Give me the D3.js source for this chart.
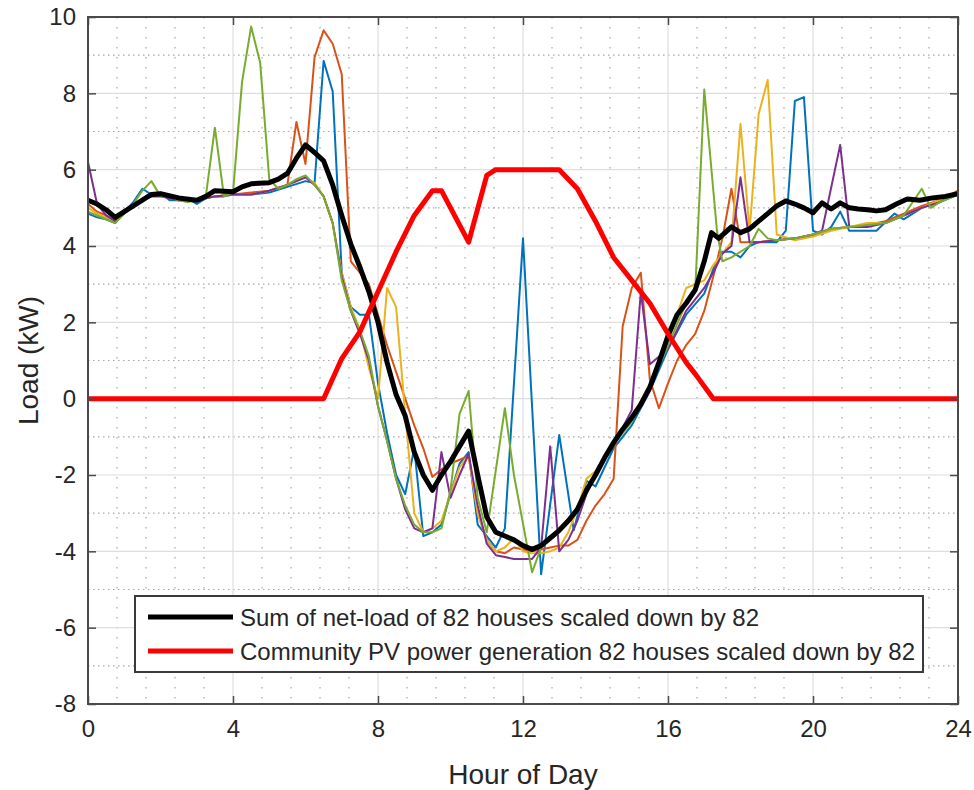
<!DOCTYPE html>
<html>
<head>
<meta charset="utf-8">
<script src="https://cdn.jsdelivr.net/npm/d3@7"></script>
<style>
  body { margin: 0; background: #fff; }
  text { font-family: "Liberation Sans", Arial, Helvetica, sans-serif; fill: #262626; }
</style>
</head>
<body>
<div id="chart"></div>
<script>
let width = 974, height = 790;
const margin = { left: 88, right: 16, top: 17, bottom: 86 };

// axis ticks
const xTicks = [0, 4, 8, 12, 16, 20, 24];
const yTicks = [-8, -6, -4, -2, 0, 2, 4, 6, 8, 10];

// [hour, kW] vertices
const blue = [[0,4.85],[0.25,4.75],[0.5,4.7],[0.75,4.6],[1,4.9],[1.25,5.15],[1.5,5.5],[1.75,5.35],[2,5.4],[2.25,5.2],[2.5,5.2],[2.75,5.25],[3,5.1],[3.25,5.25],[3.5,5.3],[3.75,5.3],[4,5.35],[4.5,5.35],[5,5.4],[5.5,5.55],[6,5.7],[6.25,5.65],[6.5,8.85],[6.75,8.05],[7,3.3],[7.25,2.4],[7.5,2.2],[7.75,2.2],[8,0.4],[8.25,-0.9],[8.5,-2.0],[8.75,-2.5],[9,-1.3],[9.25,-3.6],[9.5,-3.5],[9.75,-3.3],[10,-2.5],[10.25,-1.7],[10.5,-1.4],[10.75,-3.3],[11,-3.6],[11.25,-3.9],[11.5,-3.4],[12,4.2],[12.5,-4.6],[13,-0.95],[13.4,-3.45],[13.75,-2.15],[14,-2.3],[14.5,-1.3],[15,-0.7],[15.5,0.2],[16,1.3],[16.5,2.2],[17,2.75],[17.25,3.4],[17.5,3.85],[17.75,3.85],[18,3.7],[18.25,4.0],[18.5,4.1],[19,4.1],[19.25,4.4],[19.5,7.8],[19.75,7.9],[20,4.4],[20.25,4.3],[20.5,4.5],[20.75,4.9],[21,4.4],[21.5,4.4],[21.75,4.4],[22.25,4.85],[22.5,4.7],[23,5.0],[23.5,5.15],[24,5.35]];

const orange = [[0,5.1],[0.25,4.9],[0.5,4.8],[0.75,4.65],[1,4.85],[1.25,5.05],[1.5,5.2],[1.75,5.3],[2,5.35],[2.5,5.2],[3,5.2],[3.5,5.3],[4,5.35],[4.5,5.4],[5,5.45],[5.5,5.6],[5.75,7.25],[6,6.15],[6.25,8.95],[6.5,9.65],[6.75,9.3],[7,8.5],[7.25,3.6],[7.5,3.3],[7.75,3.0],[8,2.2],[8.25,1.4],[8.5,0.7],[8.75,0.0],[9,-0.7],[9.25,-1.3],[9.5,-2.05],[9.75,-1.85],[10,-1.7],[10.25,-1.6],[10.5,-1.5],[10.75,-3.0],[11,-3.7],[11.25,-4.0],[11.5,-4.05],[11.75,-3.9],[12,-3.95],[12.25,-4.0],[12.5,-3.95],[12.75,-3.9],[13,-3.85],[13.25,-3.85],[13.5,-3.7],[13.75,-3.2],[14,-2.8],[14.25,-2.5],[14.5,-2.1],[14.75,1.9],[15,2.9],[15.25,3.3],[15.5,0.5],[15.75,-0.25],[16,0.4],[16.25,1.0],[16.5,1.4],[16.75,1.7],[17,2.3],[17.25,3.2],[17.5,4.2],[17.75,5.5],[18,4.1],[18.5,4.1],[19,4.15],[19.5,4.2],[20,4.3],[20.5,4.45],[21,4.5],[21.5,4.55],[22,4.65],[22.5,4.85],[23,5.05],[23.5,5.2],[24,5.45]];

const yellow = [[0,5.0],[0.25,4.85],[0.5,4.75],[0.75,4.65],[1,4.85],[1.25,5.05],[1.5,5.2],[1.75,5.3],[2,5.35],[2.5,5.2],[3,5.2],[3.5,5.3],[4,5.35],[4.5,5.35],[5,5.45],[5.5,5.6],[6,5.8],[6.25,5.65],[6.5,5.3],[6.75,4.6],[7,3.3],[7.25,2.4],[7.5,1.8],[7.75,0.8],[8,0.0],[8.25,2.9],[8.5,2.4],[8.75,-0.4],[9,-3.0],[9.25,-3.5],[9.5,-3.4],[9.75,-3.2],[10,-2.5],[10.25,-1.8],[10.5,-1.5],[10.75,-3.0],[11,-3.7],[11.25,-4.0],[11.5,-3.9],[11.75,-3.65],[12,-4.0],[12.25,-4.05],[12.5,-4.05],[12.75,-4.0],[13,-3.9],[13.25,-3.5],[13.5,-2.9],[13.75,-2.1],[14,-1.9],[14.5,-1.1],[15,-0.5],[15.5,0.4],[16,1.5],[16.5,2.9],[17,3.1],[17.25,3.5],[17.5,3.8],[17.75,4.1],[18,7.2],[18.25,4.4],[18.5,7.45],[18.75,8.35],[19,4.3],[19.5,4.15],[20,4.25],[20.5,4.4],[21,4.5],[21.5,4.6],[22,4.6],[22.5,4.8],[23,5.0],[23.5,5.2],[24,5.4]];

const purple = [[0,6.2],[0.25,5.1],[0.5,4.8],[0.75,4.65],[1,4.85],[1.25,5.05],[1.5,5.2],[1.75,5.3],[2,5.3],[2.5,5.2],[3,5.2],[3.5,5.3],[4,5.35],[4.5,5.35],[5,5.45],[5.5,5.6],[6,5.8],[6.25,5.6],[6.5,5.3],[6.75,4.6],[7,3.2],[7.25,2.3],[7.5,1.7],[7.75,1.0],[8,-0.2],[8.25,-1.1],[8.5,-2.1],[8.75,-2.9],[9,-3.4],[9.25,-3.5],[9.5,-3.4],[9.75,-1.4],[10,-2.6],[10.25,-2.0],[10.5,-1.45],[10.75,-2.8],[11,-3.8],[11.25,-4.1],[11.5,-4.15],[11.75,-4.2],[12,-4.2],[12.25,-4.2],[12.5,-3.9],[12.75,-1.25],[13,-4.0],[13.25,-3.7],[13.5,-3.2],[13.75,-2.5],[14,-2.0],[14.5,-1.2],[15,-0.3],[15.25,2.8],[15.5,0.9],[16,1.3],[16.5,2.3],[17,2.9],[17.25,3.3],[17.5,3.8],[17.75,4.0],[18,5.8],[18.25,4.1],[18.5,4.1],[19,4.15],[19.5,4.2],[20,4.3],[20.25,4.4],[20.75,6.65],[21,4.5],[21.5,4.5],[22,4.6],[22.5,4.8],[23,5.0],[23.5,5.15],[24,5.4]];

const green = [[0,4.9],[0.25,4.8],[0.5,4.7],[0.75,4.6],[1,4.85],[1.25,5.1],[1.5,5.45],[1.75,5.7],[2,5.3],[2.25,5.3],[2.5,5.2],[2.75,5.15],[3,5.2],[3.25,5.3],[3.5,7.1],[3.75,5.3],[4,5.4],[4.25,8.3],[4.5,9.75],[4.75,8.8],[5,5.75],[5.25,5.5],[5.5,5.6],[5.75,5.75],[6,5.85],[6.25,5.6],[6.5,5.3],[6.75,4.6],[7,3.1],[7.25,2.3],[7.5,1.8],[7.75,1.1],[8,-0.2],[8.25,-1.1],[8.5,-2.1],[8.75,-2.8],[9,-3.3],[9.25,-3.5],[9.5,-3.5],[9.75,-3.4],[10,-2.4],[10.25,-0.4],[10.5,0.2],[10.75,-2.6],[11,-3.5],[11.5,-0.25],[11.75,-2.0],[12.25,-4.55],[12.5,-3.9],[12.75,-3.7],[13,-3.5],[13.5,-2.9],[14,-2.0],[14.5,-1.2],[15,-0.6],[15.5,0.3],[16,1.4],[16.5,2.5],[16.75,2.8],[17,8.1],[17.35,4.4],[17.5,3.6],[17.75,3.7],[18,3.85],[18.25,4.0],[18.5,4.45],[18.75,4.2],[19,4.15],[19.5,4.2],[20,4.3],[20.5,4.45],[21,4.5],[21.5,4.55],[22,4.6],[22.5,4.8],[23,5.5],[23.25,5.0],[23.5,5.15],[24,5.35]];

const netLoad = [[0,5.2],[0.25,5.1],[0.5,4.95],[0.75,4.75],[1,4.9],[1.25,5.05],[1.5,5.2],[1.75,5.35],[2,5.37],[2.5,5.26],[3,5.2],[3.25,5.3],[3.5,5.45],[4,5.42],[4.25,5.55],[4.5,5.63],[5,5.66],[5.25,5.75],[5.5,5.9],[5.75,6.3],[6,6.65],[6.25,6.45],[6.5,6.23],[6.75,5.6],[7,4.8],[7.25,4.05],[7.5,3.45],[7.75,2.8],[8,2.0],[8.25,0.95],[8.5,0.1],[8.75,-0.45],[9,-1.4],[9.25,-2.0],[9.5,-2.4],[9.75,-2.0],[10,-1.65],[10.25,-1.25],[10.5,-0.85],[10.75,-2.0],[11,-3.1],[11.25,-3.5],[11.5,-3.6],[11.75,-3.7],[12,-3.85],[12.25,-3.95],[12.5,-3.85],[12.75,-3.65],[13,-3.45],[13.25,-3.2],[13.5,-2.9],[13.75,-2.4],[14,-2.0],[14.25,-1.55],[14.5,-1.15],[14.75,-0.8],[15,-0.5],[15.25,-0.15],[15.5,0.3],[15.75,0.95],[16,1.65],[16.25,2.2],[16.5,2.5],[16.75,2.85],[17,3.6],[17.2,4.35],[17.4,4.2],[17.75,4.5],[18,4.35],[18.25,4.45],[18.5,4.65],[18.75,4.85],[19,5.05],[19.25,5.18],[19.5,5.1],[19.75,5.0],[20,4.87],[20.25,5.13],[20.5,4.97],[20.75,5.13],[21,5.0],[21.25,4.97],[21.5,4.95],[21.75,4.92],[22,4.95],[22.3,5.1],[22.6,5.23],[22.95,5.2],[23.3,5.26],[23.65,5.3],[24,5.37]];

const pvGen = [[0,0],[6.5,0],[7,1.05],[7.5,1.75],[8,2.8],[8.5,3.85],[9,4.8],[9.5,5.45],[9.75,5.45],[10.5,4.1],[11,5.85],[11.25,6],[13,6],[13.5,5.5],[14,4.65],[14.5,3.7],[15,3.1],[15.5,2.5],[16,1.7],[16.5,0.95],[16.75,0.65],[17.25,0],[24,0]];

const houseSeries = [blue, orange, yellow, purple, green];
const houseColors = ['#0072BD', '#D95319', '#EDB120', '#7E2F8E', '#77AC30'];
const legendLabels = ['Sum of net-load of 82 houses scaled down by 82',
                      'Community PV power generation 82 houses scaled down by 82'];

const svg = d3.select('#chart').append('svg')
  .attr('width', width)
  .attr('height', height);

const x = d3.scaleLinear().domain([0, 24]).range([margin.left, width - margin.right]);
const y = d3.scaleLinear().domain([-8, 10]).range([height - margin.bottom, margin.top]);

const x0 = x.range()[0], x1 = x.range()[1], y0 = y.range()[0], y1 = y.range()[1];

// minor grid (dotted)
const g = svg.append('g');
g.selectAll('.minor-x')
  .data(d3.range(0.8, 24, 0.8).filter(v => Math.abs(v / 4 - Math.round(v / 4)) > 0.01))
  .join('line')
    .attr('x1', d => x(d)).attr('x2', d => x(d))
    .attr('y1', y1).attr('y2', y0)
    .attr('stroke', '#a8a8a8').attr('stroke-width', 1.2)
    .attr('stroke-dasharray', '1.5,8.5');
g.selectAll('.minor-y')
  .data(d3.range(-7, 10, 2))
  .join('line')
    .attr('x1', x0).attr('x2', x1)
    .attr('y1', d => y(d)).attr('y2', d => y(d))
    .attr('stroke', '#a8a8a8').attr('stroke-width', 1.2)
    .attr('stroke-dasharray', '1.5,3.5');

// major grid
g.append('g')
  .selectAll('line')
  .data(xTicks.slice(1, -1))
  .join('line')
    .attr('x1', d => x(d)).attr('x2', d => x(d))
    .attr('y1', y1).attr('y2', y0)
    .attr('stroke', '#dedede').attr('stroke-width', 1.2);
g.append('g')
  .selectAll('line')
  .data(yTicks.slice(1, -1))
  .join('line')
    .attr('x1', x0).attr('x2', x1)
    .attr('y1', d => y(d)).attr('y2', d => y(d))
    .attr('stroke', '#dedede').attr('stroke-width', 1.2);

// data lines
const line = d3.line().x(d => x(d[0])).y(d => y(d[1]));

svg.append('g').selectAll('path')
  .data(houseSeries)
  .join('path')
    .attr('d', line)
    .attr('fill', 'none')
    .attr('stroke', (d, i) => houseColors[i])
    .attr('stroke-width', 2)
    .attr('stroke-linejoin', 'round');

svg.append('path')
  .attr('d', line(netLoad))
  .attr('fill', 'none')
  .attr('stroke', '#000')
  .attr('stroke-width', 5)
  .attr('stroke-linejoin', 'round');

svg.append('path')
  .attr('d', line(pvGen))
  .attr('fill', 'none')
  .attr('stroke', '#ff0000')
  .attr('stroke-width', 5)
  .attr('stroke-linejoin', 'round');

// axes with inward ticks
const axisColor = '#4a4a4a';
const plainNum = d => String(d);
svg.append('g')
  .attr('transform', `translate(0,${y0})`)
  .call(d3.axisBottom(x).tickValues(xTicks).tickSize(-8).tickPadding(16).tickFormat(plainNum));
svg.append('g')
  .attr('transform', `translate(${x0},0)`)
  .call(d3.axisLeft(y).tickValues(yTicks).tickSize(-8).tickPadding(12).tickFormat(plainNum));
svg.append('g')
  .attr('transform', `translate(0,${y1})`)
  .call(d3.axisTop(x).tickValues(xTicks).tickSize(-8).tickFormat(''));
svg.append('g')
  .attr('transform', `translate(${x1},0)`)
  .call(d3.axisRight(y).tickValues(yTicks).tickSize(-8).tickFormat(''));

svg.selectAll('.domain').remove();
svg.selectAll('.tick line').attr('stroke', axisColor).attr('stroke-width', 1.5);
svg.selectAll('.tick text')
  .style('font-size', '24px')
  .style('font-family', '"Liberation Sans", Arial, sans-serif')
  .attr('fill', '#262626');

svg.append('rect')
  .attr('x', x0).attr('y', y1)
  .attr('width', x1 - x0).attr('height', y0 - y1)
  .attr('fill', 'none')
  .attr('stroke', axisColor)
  .attr('stroke-width', 2);

// axis labels
svg.append('text')
  .attr('x', (x0 + x1) / 2).attr('y', 784)
  .attr('text-anchor', 'middle')
  .style('font-size', '28px')
  .text('Hour of Day');
svg.append('text')
  .attr('transform', `translate(38,${(y0 + y1) / 2}) rotate(-90)`)
  .attr('text-anchor', 'middle')
  .style('font-size', '28px')
  .text('Load (kW)');

// legend
const legend = svg.append('g');
legend.append('rect')
  .attr('x', 135).attr('y', 596)
  .attr('width', 788).attr('height', 76)
  .attr('fill', '#fff')
  .attr('stroke', '#3a3a3a')
  .attr('stroke-width', 2);
const legendColors = ['#000', '#ff0000'];
legendLabels.forEach((label, i) => {
  const ly = 617 + i * 34;
  legend.append('line')
    .attr('x1', 148).attr('x2', 233)
    .attr('y1', ly).attr('y2', ly)
    .attr('stroke', legendColors[i])
    .attr('stroke-width', 5);
  legend.append('text')
    .attr('x', 240).attr('y', ly + 8.5)
    .style('font-size', '24px')
    .text(label);
});
</script>
</body>
</html>
